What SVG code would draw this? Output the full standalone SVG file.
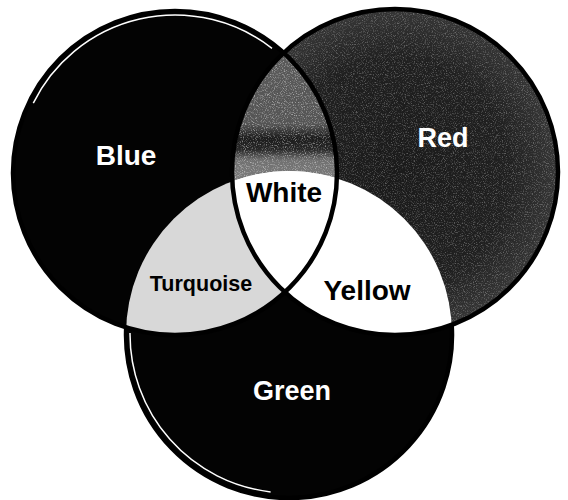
<svg xmlns="http://www.w3.org/2000/svg" width="568" height="500" viewBox="0 0 568 500">
  <style>
    .lbl { font-family: "Liberation Sans", Arial, sans-serif; font-weight: bold; text-anchor: middle; }
    .light { fill: #ffffff; }
    .dark { fill: #000000; }
    .edge { fill: none; stroke: #000000; stroke-width: 4.5; }
    .inner { fill: none; stroke: #ffffff; stroke-width: 1.5; }
  </style>
  <defs>
    <clipPath id="clipBlue"><circle cx="175" cy="173" r="162"/></clipPath>
    <clipPath id="clipRed"><circle cx="395" cy="172" r="163"/></clipPath>
    <clipPath id="clipGreen"><circle cx="289" cy="334" r="163"/></clipPath>
    <linearGradient id="greyBand" gradientUnits="userSpaceOnUse" x1="0" y1="40" x2="0" y2="180">
      <stop offset="0" stop-color="#5a5a5a"/>
      <stop offset="0.6" stop-color="#555555"/>
      <stop offset="0.7" stop-color="#1c1c1c"/>
      <stop offset="0.78" stop-color="#262626"/>
      <stop offset="0.86" stop-color="#707070"/>
      <stop offset="1" stop-color="#7c7c7c"/>
    </linearGradient>
    <radialGradient id="redShade" gradientUnits="userSpaceOnUse" cx="395" cy="172" r="163">
      <stop offset="0" stop-color="#1a1a1a"/>
      <stop offset="0.7" stop-color="#202020"/>
      <stop offset="1" stop-color="#363636"/>
    </radialGradient>
    <filter id="grain" x="0" y="0" width="100%" height="100%">
      <feTurbulence type="fractalNoise" baseFrequency="0.9" numOctaves="2" seed="7"/>
      <feColorMatrix type="matrix" values="0 0 0 0 1  0 0 0 0 1  0 0 0 0 1  3.5 0 0 0 -1.75"/>
    </filter>
  </defs>

  <rect width="568" height="500" fill="#ffffff"/>

  <g id="blue">
    <circle cx="175" cy="173" r="162" fill="#030303"/>
  </g>

  <g id="red">
    <circle cx="395" cy="172" r="163" fill="url(#redShade)"/>
    <g clip-path="url(#clipRed)">
      <rect x="230" y="5" width="335" height="330" filter="url(#grain)" opacity="0.28"/>
    </g>
  </g>

  <g id="blue-red" clip-path="url(#clipBlue)">
    <circle cx="395" cy="172" r="163" fill="url(#greyBand)"/>
    <g clip-path="url(#clipRed)">
      <rect x="230" y="5" width="120" height="180" filter="url(#grain)" opacity="0.45"/>
    </g>
  </g>

  <g id="green">
    <circle cx="289" cy="334" r="163" fill="#030303"/>
  </g>

  <g id="turquoise" clip-path="url(#clipBlue)">
    <circle cx="289" cy="334" r="163" fill="#d8d8d8"/>
  </g>

  <g id="yellow" clip-path="url(#clipRed)">
    <circle cx="289" cy="334" r="163" fill="#ffffff"/>
  </g>

  <g id="white" clip-path="url(#clipBlue)">
    <g clip-path="url(#clipRed)">
      <circle cx="289" cy="334" r="163" fill="#ffffff"/>
    </g>
  </g>

  <g id="outlines">
    <circle class="edge" cx="175" cy="173" r="162"/>
    <circle class="edge" cx="395" cy="172" r="163"/>
    <path class="edge" d="M126.2,327.4 A163,163 0 1,0 451.7,324.8"/>
    <path class="inner" d="M33.3,103.1 A158,158 0 0,1 272,48.3"/>
    <path class="inner" d="M130,333 A159,159 0 0,0 270.6,491.9"/>
  </g>

  <g id="labels">
    <text class="lbl light" x="126" y="165" font-size="28">Blue</text>
    <text class="lbl light" x="443" y="147" font-size="27">Red</text>
    <text class="lbl dark" x="284" y="202" font-size="28">White</text>
    <text class="lbl dark" x="201" y="291" font-size="21.5">Turquoise</text>
    <text class="lbl dark" x="367" y="300" font-size="28">Yellow</text>
    <text class="lbl light" x="292" y="400" font-size="27">Green</text>
  </g>
</svg>
